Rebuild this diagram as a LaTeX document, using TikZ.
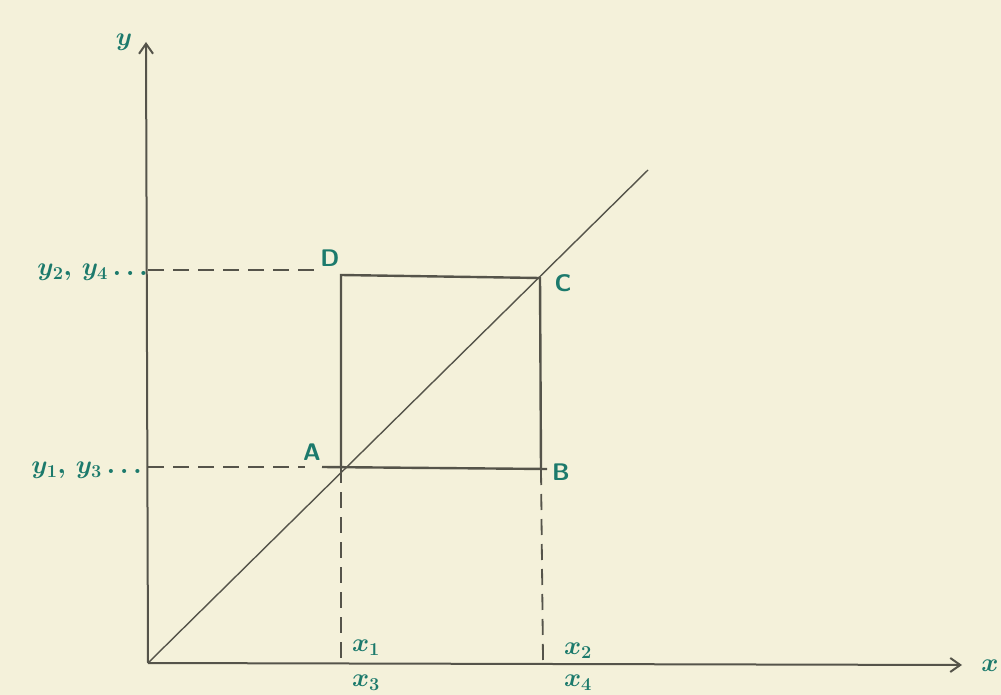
\RequirePackage{fix-cm}
\documentclass[tikz,border=0pt]{standalone}
\usetikzlibrary{arrows.meta}
\definecolor{paper}{HTML}{F4F1DA}
\definecolor{ink}{HTML}{55544A}
\definecolor{pen}{HTML}{1C7A6C}
\begin{document}
\begin{tikzpicture}[x=1pt,y=-1pt,
  axis/.style={draw=ink,line width=2pt,-{Straight Barb[length=10pt,width=14pt,line width=2pt]}},
  solid line/.style={draw=ink,line width=2.4pt},
  thin line/.style={draw=ink,line width=1.4pt},
  dash line/.style={draw=ink,line width=1.8pt,dash pattern=on 16pt off 9pt},
  lab/.style={text=pen,font=\fontsize{24}{26}\selectfont\bfseries\sffamily,inner sep=0pt},
  mlab/.style={text=pen,font=\fontsize{26}{28}\selectfont\boldmath,inner sep=0pt}]
\fill[paper] (0,0) rectangle (1001,695);
\useasboundingbox (0,0) rectangle (1001,695);
% key points
\coordinate (O) at (148,663);
\coordinate (Ytip) at (146,42);
\coordinate (Xtip) at (962,665);
\coordinate (A) at (341,467);
\coordinate (B) at (541,469);
\coordinate (C) at (540,278);
\coordinate (D) at (341,275);
\coordinate (Aleft) at (322,467);
\coordinate (Bright) at (547,469);
\coordinate (Diag) at (648,170);
\coordinate (Y2) at (148,270);
\coordinate (Y2e) at (322,270);
\coordinate (Y1) at (148,467);
\coordinate (Y1e) at (305,467);
\coordinate (X1) at (341,660);
\coordinate (X2) at (543,660);
% axes
\draw[axis] (O) -- (Ytip);
\draw[axis] (O) -- (Xtip);
% diagonal
\draw[thin line] (O) -- (Diag);
% square
\draw[solid line] (A) -- (D) -- (C) -- (B);
\draw[solid line] (Aleft) -- (Bright);
% dashed guides
\draw[dash line] (Y2) -- (Y2e);
\draw[dash line] (Y1) -- (Y1e);
\draw[dash line] (A) -- (X1);
\draw[dash line] (B) -- (X2);
% labels
\node[mlab] (ly) at (124,42) {$y$};
\node[mlab] (lx) at (990,666) {$x$};
\node[lab] (lA) at (312,452) {A};
\node[lab] (lB) at (561,472) {B};
\node[lab] (lC) at (563,283) {C};
\node[lab] (lD) at (330,258) {D};
\node[mlab,anchor=east] (ly24) at (148,272) {$y_2,\,y_4\ldots$};
\node[mlab,anchor=east] (ly13) at (142,470) {$y_1,\,y_3\ldots$};
\node[mlab] (lx1) at (366,648) {$x_1$};
\node[mlab] (lx3) at (366,683) {$x_3$};
\node[mlab] (lx2) at (578,651) {$x_2$};
\node[mlab] (lx4) at (578,683) {$x_4$};
\end{tikzpicture}
\end{document}
